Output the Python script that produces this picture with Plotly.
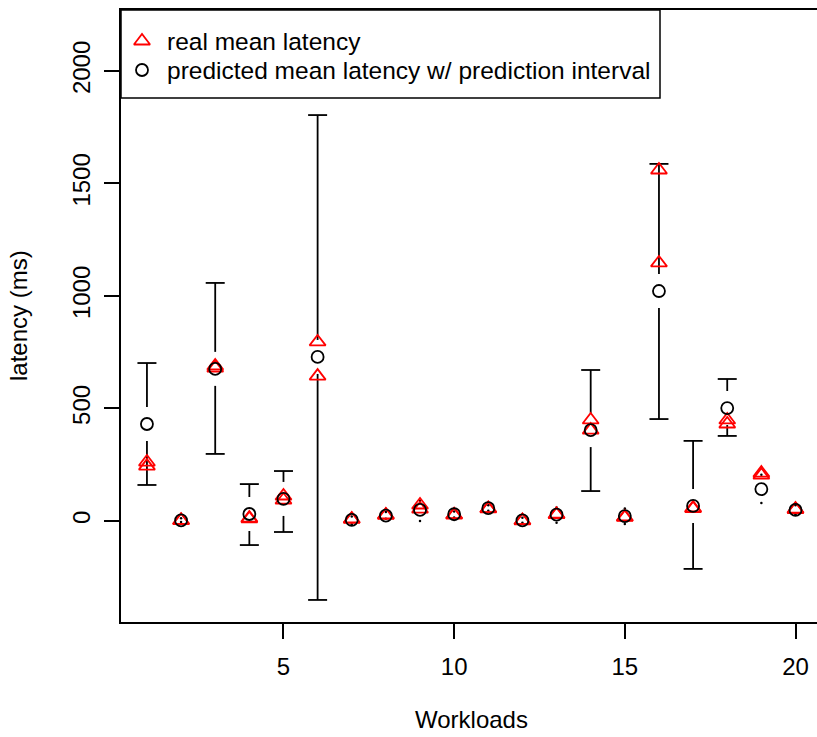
import plotly.graph_objects as go

# ---------------- data ----------------
workloads = list(range(1, 21))
real_a = [262, 3, 689, 13, 111, 796, 9, 27, 71, 28, 55, 2, 30, 449, 18, 1560, 58, 449, 213, 53]
real_b = [244, 2, 680, 10, 93, 644, 7, 25, 53, 26, 54, 1, 28, 404, 16, 1147, 55, 431, 204, 51]
pred_mean = [431, 3, 676, 31, 98, 729, 5, 24, 49, 30, 57, 3, 28, 404, 22, 1022, 67, 502, 142, 49]
pred_lower = [160, -5, 298, -107, -49, -351, -15, 10, 0, 15, 45, -8, -8, 133, -13, 453, -213, 378, 80, 30]
pred_upper = [702, 12, 1058, 164, 222, 1804, 20, 40, 90, 42, 70, 14, 60, 671, 55, 1587, 356, 631, 205, 70]
x_ticks = [5, 10, 15, 20]
y_ticks = [0, 500, 1000, 1500, 2000]
legend_labels = ["real mean latency", "predicted mean latency w/ prediction interval"]

# ---------------- layout geometry ----------------
W, H = 817, 737
ML, MR, MT, MB = 121, 0, 10, 115
X_RANGE = [0.24, 20.63]
Y_RANGE = [-449, 2271]
plot_w = W - ML - MR
plot_h = H - MT - MB
unit_per_px_y = (Y_RANGE[1] - Y_RANGE[0]) / plot_h
unit_per_px_x = (X_RANGE[1] - X_RANGE[0]) / plot_w
GAP = 17 * unit_per_px_y       # gap kept around the circle (plotCI style)
CAP = 9.5 * unit_per_px_x      # half width of the whisker caps

FONT = "Liberation Sans, Arial, sans-serif"
LW = 1.8
TRI = dict(symbol="triangle-up-open", size=14, color="red", line=dict(color="red", width=LW))
CIR = dict(symbol="circle-open", size=12, color="black", line=dict(color="black", width=LW))

# ---------------- error bars with gaps ----------------
bx, by = [], []
cx, cy = [], []
dots_x, dots_y = [], []
for x, m, lo, hi in zip(workloads, pred_mean, pred_lower, pred_upper):
    lo_end = m - GAP
    hi_end = m + GAP
    if lo < lo_end:
        bx += [x, x, None]
        by += [lo, lo_end, None]
        cx += [x - CAP, x + CAP, None]
        cy += [lo, lo, None]
    else:
        dots_x.append(x)
        dots_y.append(lo)
    if hi > hi_end:
        bx += [x, x, None]
        by += [hi, hi_end, None]
        cx += [x - CAP, x + CAP, None]
        cy += [hi, hi, None]
    else:
        dots_x.append(x)
        dots_y.append(hi)

fig = go.Figure()
fig.add_trace(go.Scatter(x=bx, y=by, mode="lines", line=dict(color="black", width=LW),
                         showlegend=False, hoverinfo="skip"))
fig.add_trace(go.Scatter(x=cx, y=cy, mode="lines", line=dict(color="black", width=LW),
                         showlegend=False, hoverinfo="skip"))
fig.add_trace(go.Scatter(x=dots_x, y=dots_y, mode="markers",
                         marker=dict(color="black", size=2.5, symbol="circle"),
                         showlegend=False, hoverinfo="skip"))

# real (two observations per workload) and predicted means
fig.add_trace(go.Scatter(x=workloads + workloads, y=real_a + real_b, mode="markers",
                         name=legend_labels[0], marker=TRI, showlegend=False))
fig.add_trace(go.Scatter(x=workloads, y=pred_mean, mode="markers",
                         name=legend_labels[1], marker=CIR, showlegend=False))

# ---------------- legend (R-style box, drawn on a pixel overlay axis) ----------------
LEG_BOX = (0, 660 - ML, 0, 98 - MT)          # x0, x1, y0, y1 in overlay pixels
LEG_ROWS = [41 - MT, 70 - MT]
LEG_SYM_X = 142 - ML
LEG_TXT_X = 165 - ML
fig.add_shape(type="rect", xref="x2", yref="y2",
              x0=LEG_BOX[0], x1=LEG_BOX[1], y0=LEG_BOX[2], y1=LEG_BOX[3],
              line=dict(color="black", width=1.5), fillcolor="white", layer="below")
fig.add_trace(go.Scatter(x=[LEG_SYM_X], y=[LEG_ROWS[0]], xaxis="x2", yaxis="y2",
                         mode="markers", marker=TRI, showlegend=False, hoverinfo="skip"))
fig.add_trace(go.Scatter(x=[LEG_SYM_X], y=[LEG_ROWS[1]], xaxis="x2", yaxis="y2",
                         mode="markers", marker=CIR, showlegend=False, hoverinfo="skip"))

annotations = [
    dict(text=lab, xref="x2", yref="y2", x=LEG_TXT_X, y=row, xanchor="left", yanchor="middle",
         showarrow=False, font=dict(size=24.5))
    for lab, row in zip(legend_labels, LEG_ROWS)
]
annotations += [
    dict(text="Workloads", xref="paper", yref="paper", x=(471 - ML) / plot_w,
         y=-(720 - MT - plot_h) / plot_h, xanchor="center", yanchor="middle",
         showarrow=False, font=dict(size=24)),
    dict(text="latency (ms)", xref="paper", yref="paper", x=-(ML - 18) / plot_w,
         y=0.5, xanchor="center", yanchor="middle", textangle=-90,
         showarrow=False, font=dict(size=24)),
]

fig.update_layout(
    width=W, height=H,
    margin=dict(l=ML, r=MR, t=MT, b=MB),
    paper_bgcolor="white", plot_bgcolor="white",
    font=dict(family=FONT, size=24, color="black"),
    showlegend=False,
    xaxis=dict(range=X_RANGE, tickmode="array", tickvals=x_ticks, ticktext=[str(t) for t in x_ticks],
               showgrid=False, zeroline=False, showline=True, mirror=True,
               linecolor="black", linewidth=1.5, ticks="outside", ticklen=15,
               tickwidth=1.5, tickcolor="black", ticklabelstandoff=7),
    yaxis=dict(range=Y_RANGE, tickmode="array", tickvals=y_ticks, ticktext=[str(t) for t in y_ticks],
               showgrid=False, zeroline=False, showline=True, mirror=False,
               linecolor="black", linewidth=1.5, ticks="outside", ticklen=15,
               tickwidth=1.5, tickcolor="black", tickangle=-90, ticklabelstandoff=5),
    xaxis2=dict(range=[0, plot_w], overlaying="x", visible=False, fixedrange=True),
    yaxis2=dict(range=[plot_h, 0], overlaying="y", visible=False, fixedrange=True),
    annotations=annotations,
)

fig.write_html("out.html")
